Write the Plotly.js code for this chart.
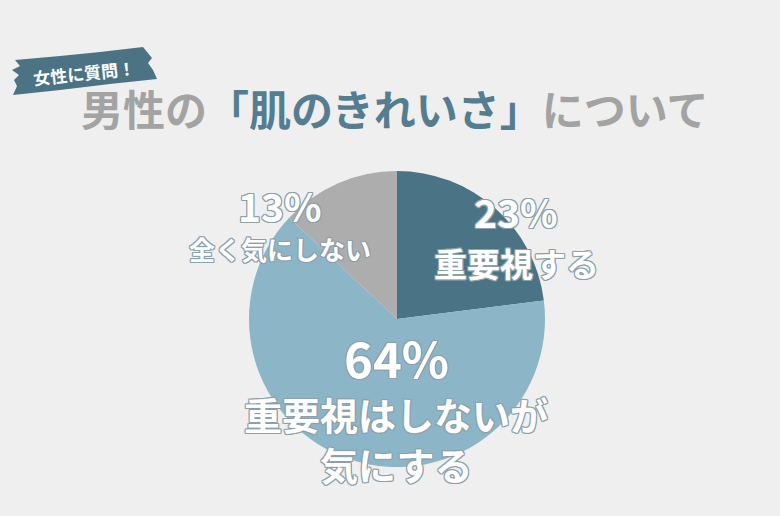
<!DOCTYPE html>
<html>
<head>
<meta charset="utf-8">
<script src="https://cdn.plot.ly/plotly-3.0.1.min.js"></script>
<style>
  html, body { margin: 0; padding: 0; background: #efefef; }
  #chart { width: 780px; height: 516px; }
</style>
</head>
<body>
<div id="chart"></div>
<script>
// ── Data ─────────────────────────────────────────────────────────────
const sliceLabels = ['重要視する', '重要視はしないが<br>気にする', '全く気にしない'];
const sliceValues = [23, 64, 13];
const sliceColors = ['#4a7385', '#8cb5c8', '#adadad'];

const titleParts = ['男性の', '「肌のきれいさ」', 'について'];
const bannerText = '女性に質問！';

// ── Helpers ──────────────────────────────────────────────────────────
const W = 780, H = 516;
const px = x => x / W;
const py = y => 1 - y / H;

const FONT = '"Noto Sans CJK JP", "Noto Sans", sans-serif';
const OUTLINE = '#8aa0ab';
const outline = [[-1, -1], [1, -1], [-1, 1], [1, 1], [0, -1], [0, 1], [-1, 0], [1, 0]]
    .map(([dx, dy]) => dx + 'px ' + dy + 'px 0 ' + OUTLINE).join(', ');

// pie geometry (pixels)
const cx = 397, cy = 319, r = 148;

// label layout per slice: [x, y of percent, y of first name line, pct size, name size, line gap]
const labelPos = [
    [516, 211, 263, 39, 33, 0],
    [396, 356, 413, 49, 38, 50],
    [280, 205, 249, 39, 26, 0]
];

function centered(text, x, y, font) {
    return {
        text: text, x: px(x), y: py(y), xref: 'paper', yref: 'paper',
        xanchor: 'center', yanchor: 'middle', showarrow: false, borderpad: 0, font: font
    };
}

function sliceAnnotations() {
    const out = [];
    sliceValues.forEach((v, i) => {
        const [x, yp, yn, sp, sn, gap] = labelPos[i];
        out.push(centered(v + '%', x, yp,
            { family: FONT, size: sp, color: '#ffffff', weight: 700, shadow: outline }));
        sliceLabels[i].split('<br>').forEach((line, j) => {
            out.push(centered(line, x, yn + j * gap,
                { family: FONT, size: sn, color: '#ffffff', weight: 700, shadow: outline }));
        });
    });
    return out;
}

// ragged ribbon behind the small heading
const bannerPts = [
    [15, 60], [60, 56], [100, 52], [143, 47], [152, 58], [148, 63],
    [153, 70], [157, 79], [110, 84], [60, 90], [13, 95], [17, 86],
    [14, 80], [19, 75], [12, 70], [20, 66]
];
const bannerPath = 'M ' + bannerPts.map(([x, y]) => px(x) + ',' + py(y)).join(' L ') + ' Z';

// ── Plot ─────────────────────────────────────────────────────────────
const pieTrace = {
    type: 'pie',
    values: sliceValues,
    labels: sliceLabels,
    marker: { colors: sliceColors, line: { width: 0 } },
    sort: false,
    direction: 'clockwise',
    rotation: 0,
    textinfo: 'none',
    hoverinfo: 'label+percent',
    showlegend: false,
    domain: {
        x: [px(cx - r), px(cx + r)],
        y: [py(cy + r), py(cy - r)]
    }
};

const banner = centered(bannerText, 84, 72,
    { family: FONT, size: 17, color: '#ffffff', weight: 700 });
banner.textangle = -6;

const title = centered(
    '<span style="color:#a3a3a3">' + titleParts[0] + '</span>'
    + '<span style="color:#557d90">' + titleParts[1] + '</span>'
    + '<span style="color:#a3a3a3">' + titleParts[2] + '</span>',
    395, 107, { family: FONT, size: 42, color: '#a3a3a3', weight: 700 });

const layout = {
    width: W,
    height: H,
    margin: { l: 0, r: 0, t: 0, b: 0 },
    paper_bgcolor: '#efefef',
    plot_bgcolor: '#efefef',
    showlegend: false,
    shapes: [{
        type: 'path', xref: 'paper', yref: 'paper',
        path: bannerPath,
        fillcolor: '#4b7384',
        line: { width: 0 }
    }],
    annotations: [banner, title, ...sliceAnnotations()]
};

Plotly.newPlot('chart', [pieTrace], layout, { displayModeBar: false, staticPlot: true });
</script>
</body>
</html>
